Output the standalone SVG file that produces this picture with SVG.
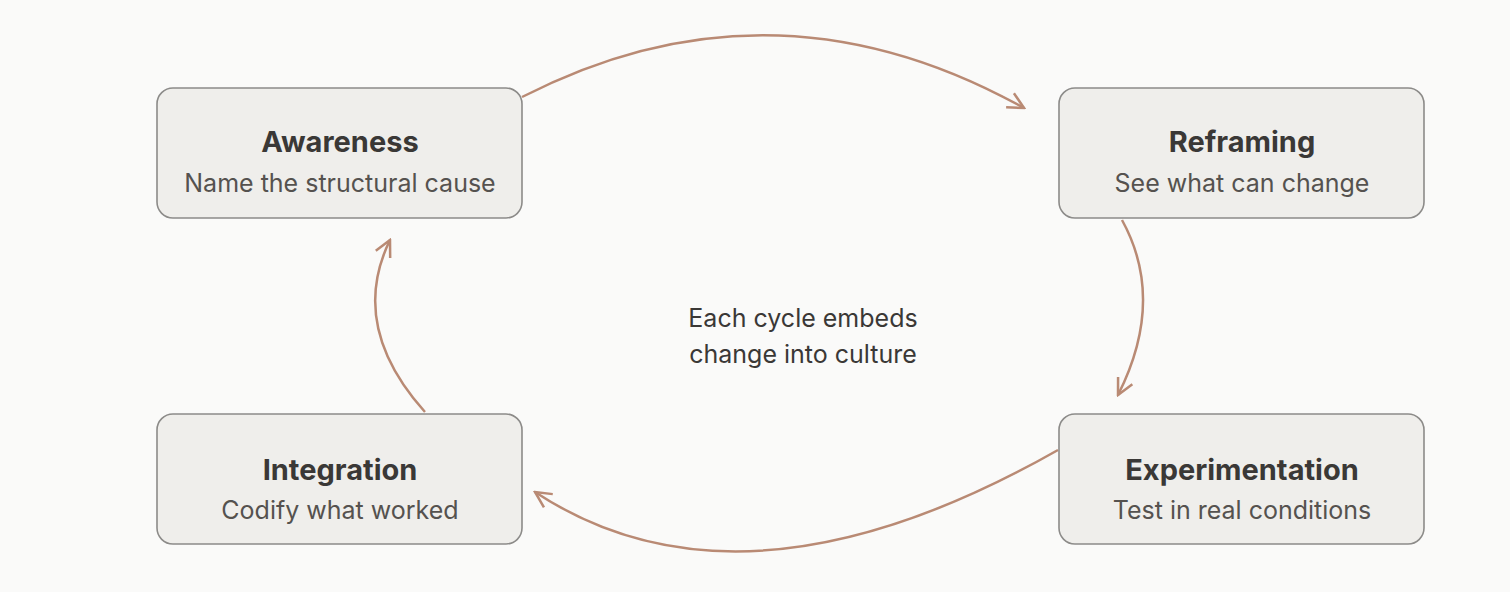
<svg xmlns="http://www.w3.org/2000/svg" width="1510" height="592" viewBox="0 0 1510 592">
<style>
.box{fill:#efeeeb;stroke:#8c8b89;stroke-width:1.6}
.t{font-family:Inter,"Noto Sans",sans-serif;font-size:29px;font-weight:700;fill:#3a3836;text-anchor:middle}
.s{font-family:Inter,"Noto Sans",sans-serif;font-size:25px;fill:#55524f;text-anchor:middle}
.c{font-family:Inter,"Noto Sans",sans-serif;font-size:25px;fill:#3a3836;text-anchor:middle}
.a{fill:none;stroke:#b98a74;stroke-width:2.5;marker-end:url(#ah)}
</style>
<defs><marker id="ah" viewBox="0 0 10 10" refX="9" refY="5" markerWidth="10" markerHeight="10" markerUnits="userSpaceOnUse" orient="auto"><path d="M0,0 L9,5 L0,10" fill="none" stroke="#b98a74" stroke-width="1.5"/></marker>
<marker id="ah2" viewBox="0 0 20 20" refX="18" refY="10" markerWidth="20" markerHeight="20" markerUnits="userSpaceOnUse" orient="auto"><path d="M2,2 L18,10 L2,18" fill="none" stroke="#b98a74" stroke-width="2.5"/></marker></defs>
<rect width="1510" height="592" fill="#fafaf9"/>
<g id="connectors">
<path class="a" style="marker-end:url(#ah2)" d="M522,97 Q773,-32 1024,108"/>
<path class="a" style="marker-end:url(#ah2)" d="M1122,220 Q1166,300 1118,395"/>
<path class="a" style="marker-end:url(#ah2)" d="M1058,450 Q743,629 535,492"/>
<path class="a" style="marker-end:url(#ah2)" d="M425,412 Q348,326 390,240"/>
</g>
<g id="awareness"><rect class="box" x="157" y="88" width="365" height="130" rx="16"/><text class="t" x="340" y="152">Awareness</text><text class="s" x="340" y="192">Name the structural cause</text></g>
<g id="reframing"><rect class="box" x="1059" y="88" width="365" height="130" rx="16"/><text class="t" x="1242" y="152">Reframing</text><text class="s" x="1242" y="192">See what can change</text></g>
<g id="experimentation"><rect class="box" x="1059" y="414" width="365" height="130" rx="16"/><text class="t" x="1242" y="480">Experimentation</text><text class="s" x="1242" y="519">Test in real conditions</text></g>
<g id="integration"><rect class="box" x="157" y="414" width="365" height="130" rx="16"/><text class="t" x="340" y="480">Integration</text><text class="s" x="340" y="519">Codify what worked</text></g>
<g id="center"><text class="c" x="803" y="327">Each cycle embeds</text><text class="c" x="803" y="363">change into culture</text></g>
</svg>
